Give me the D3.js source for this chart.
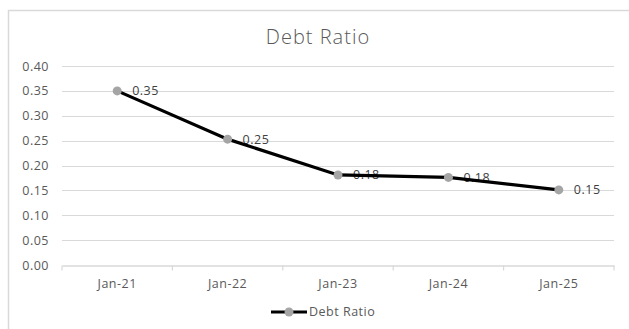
<!DOCTYPE html>
<html lang="en">
<head>
  <meta charset="utf-8">
  <title>Debt Ratio</title>
  <script src="https://d3js.org/d3.v7.min.js"></script>
  <style>
    body { margin: 0; background: #fff; }
    text { font-family: "Open Sans", sans-serif; }
  </style>
</head>
<body>
  <script>
    // chart data
    var categories = ["Jan-21", "Jan-22", "Jan-23", "Jan-24", "Jan-25"];
    var debtRatio = [0.35, 0.253, 0.181, 0.176, 0.151];
    var valueLabels = ["0.35", "0.25", "0.18", "0.18", "0.15"];
    var yTicks = [0, 0.05, 0.1, 0.15, 0.2, 0.25, 0.3, 0.35, 0.4];
    var seriesName = "Debt Ratio";

    var width = 629, height = 329;
    var plot = { left: 62, right: 614, top: 66, bottom: 265 };

    var svg = d3.select("body").append("svg")
        .attr("width", width)
        .attr("height", height);

    // chart border
    svg.append("rect")
        .attr("x", 8.5).attr("y", 10.5)
        .attr("width", width).attr("height", height)
        .attr("fill", "none")
        .attr("stroke", "#d9d9d9")
        .attr("stroke-width", 1.5);

    svg.append("text")
        .attr("x", 318).attr("y", 44)
        .attr("text-anchor", "middle")
        .attr("font-size", 20)
        .attr("font-weight", 300)
        .attr("letter-spacing", "1px")
        .attr("fill", "#595959")
        .text(seriesName);

    var x = d3.scaleBand()
        .domain(categories)
        .range([plot.left, plot.right]);

    var y = d3.scaleLinear()
        .domain([0, 0.4])
        .range([plot.bottom, plot.top]);

    // gridlines
    svg.append("g")
        .selectAll("line")
        .data(yTicks.slice(1))
        .enter().append("line")
        .attr("x1", plot.left).attr("x2", plot.right)
        .attr("y1", function(d) { return Math.round(y(d)) + 0.5; })
        .attr("y2", function(d) { return Math.round(y(d)) + 0.5; })
        .attr("stroke", "#d9d9d9")
        .attr("stroke-width", 1.2);

    // y axis
    var yAxis = svg.append("g")
        .attr("transform", "translate(" + plot.left + ",0)")
        .call(d3.axisLeft(y).tickValues(yTicks).tickFormat(d3.format(".2f")).tickSize(0).tickPadding(13));
    yAxis.select(".domain").remove();
    yAxis.selectAll("text")
        .attr("font-family", "Open Sans, sans-serif")
        .attr("font-size", 12.5)
        .attr("letter-spacing", "0.5px")
        .attr("fill", "#595959");

    // x axis
    var xAxis = svg.append("g")
        .attr("transform", "translate(0," + (Math.round(plot.bottom) + 0.5) + ")")
        .call(d3.axisBottom(x).tickSize(0).tickPadding(14));
    xAxis.select(".domain").attr("stroke", "#d9d9d9").attr("stroke-width", 1.5);
    xAxis.selectAll("text")
        .attr("font-family", "Open Sans, sans-serif")
        .attr("font-size", 12.5)
        .attr("letter-spacing", "0.5px")
        .attr("fill", "#595959");
    xAxis.selectAll(".bound")
        .data(d3.range(categories.length + 1))
        .enter().append("line")
        .attr("class", "bound")
        .attr("x1", function(i) { return plot.left + i * x.step(); })
        .attr("x2", function(i) { return plot.left + i * x.step(); })
        .attr("y1", 0).attr("y2", 5)
        .attr("stroke", "#d9d9d9")
        .attr("stroke-width", 1.2);

    var cx = function(d, i) { return x(categories[i]) + x.bandwidth() / 2; };

    // data labels
    svg.append("g")
        .selectAll("text")
        .data(debtRatio)
        .enter().append("text")
        .attr("x", function(d, i) { return cx(d, i) + 15; })
        .attr("y", function(d) { return y(d); })
        .attr("dy", "0.35em")
        .attr("font-size", 12.5)
        .attr("letter-spacing", "0.5px")
        .attr("fill", "#404040")
        .text(function(d, i) { return valueLabels[i]; });

    var line = d3.line()
        .x(function(d, i) { return cx(d, i); })
        .y(function(d) { return y(d); });

    svg.append("path")
        .datum(debtRatio)
        .attr("d", line)
        .attr("fill", "none")
        .attr("stroke", "#000")
        .attr("stroke-width", 3.2);

    svg.append("g")
        .selectAll("circle")
        .data(debtRatio)
        .enter().append("circle")
        .attr("cx", cx)
        .attr("cy", function(d) { return y(d); })
        .attr("r", 4.5)
        .attr("fill", "#a5a5a5");

    // legend
    var legend = svg.append("g").attr("transform", "translate(271,312)");
    legend.append("line")
        .attr("x1", 0).attr("x2", 36)
        .attr("stroke", "#000").attr("stroke-width", 3.2);
    legend.append("circle")
        .attr("cx", 18).attr("r", 4.5)
        .attr("fill", "#a5a5a5");
    legend.append("text")
        .attr("x", 38).attr("dy", "0.35em")
        .attr("font-size", 12.5)
        .attr("letter-spacing", "0.5px")
        .attr("fill", "#595959")
        .text(seriesName);
  </script>
</body>
</html>
